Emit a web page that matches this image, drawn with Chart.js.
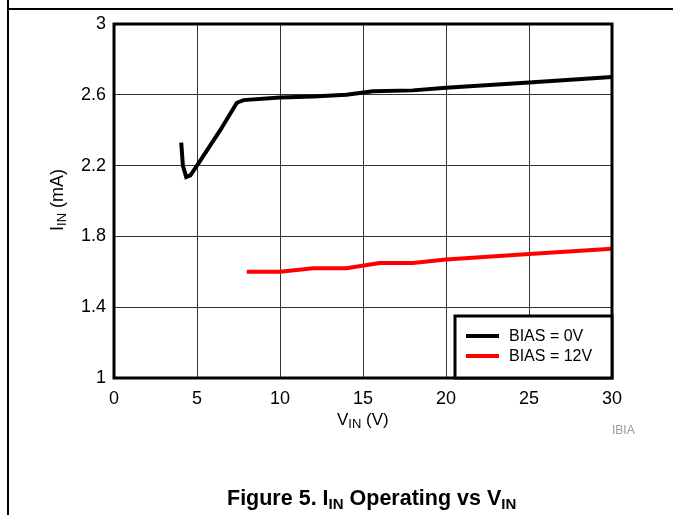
<!DOCTYPE html>
<html>
<head>
<meta charset="utf-8">
<script src="https://cdn.jsdelivr.net/npm/chart.js@4.4.0/dist/chart.umd.min.js"></script>
<style>
    body { margin: 0; background: #fff; font-family: "Liberation Sans", Arial, sans-serif; }
    #wrap { position: relative; width: 673px; height: 515px; overflow: hidden; }
    #frameTop { position: absolute; left: 8px; top: 8px; width: 665px; height: 2px; background: #000; }
    #frameLeft { position: absolute; left: 7px; top: 0; width: 2px; height: 515px; background: #000; }
    .lbl { position: absolute; color: #000; white-space: nowrap; }
    .lbl sub { vertical-align: -3px; }
    #xTitle { left: 337px; top: 410px; font-size: 17px; }
    #xTitle sub { font-size: 13px; }
    #yTitle { left: 58px; top: 200px; font-size: 18px; transform: translate(-50%, -50%) rotate(-90deg); }
    #yTitle sub { font-size: 13px; }
    #note { left: 612px; top: 423px; font-size: 12px; color: #999; }
    #caption { left: 227px; top: 486px; font-size: 21.5px; font-weight: bold; }
    #caption sub { font-size: 15px; vertical-align: -4px; }
</style>
</head>
<body>
<div id="wrap">
    <canvas id="chart"></canvas>
    <div id="frameTop"></div>
    <div id="frameLeft"></div>
    <div class="lbl" id="xTitle">V<sub>IN</sub> (V)</div>
    <div class="lbl" id="yTitle">I<sub>IN</sub> (mA)</div>
    <div class="lbl" id="note">IBIA</div>
    <div class="lbl" id="caption">Figure 5. I<sub>IN</sub> Operating vs V<sub>IN</sub></div>
</div>
<script>
// values
const vinBias0 = [4.05, 4.15, 4.35, 4.6, 5.0, 6.4, 7.4, 7.8, 10, 12, 14, 15.6, 18, 20, 25, 30];
const iinBias0 = [2.33, 2.20, 2.135, 2.145, 2.20, 2.40, 2.555, 2.57, 2.585, 2.59, 2.60, 2.62, 2.625, 2.64, 2.67, 2.70];
const vinBias12 = [8, 10, 12, 14, 16, 18, 20, 25, 30];
const iinBias12 = [1.60, 1.60, 1.62, 1.62, 1.65, 1.65, 1.67, 1.70, 1.73];
const seriesLabels = ['BIAS = 0V', 'BIAS = 12V'];
const yTicks = [1, 1.4, 1.8, 2.2, 2.6, 3];

const tickFont = { family: '"Liberation Sans", Arial, sans-serif', size: 18 };

function toPoints(xs, ys) {
    return xs.map((x, i) => ({ x: x, y: ys[i] }));
}

// thick box round the plot area
const plotBox = {
    id: 'plotBox',
    afterDatasetsDraw(chart) {
        const a = chart.chartArea;
        const ctx = chart.ctx;
        ctx.save();
        ctx.strokeStyle = '#000';
        ctx.lineWidth = 3;
        ctx.strokeRect(a.left, a.top, a.right - a.left, a.bottom - a.top);
        ctx.restore();
    }
};

// legend box sitting in the lower right corner of the plot
const boxLegend = {
    id: 'boxLegend',
    afterDraw(chart) {
        const a = chart.chartArea;
        const ctx = chart.ctx;
        const w = 157, h = 62;
        const x0 = a.right - w, y0 = a.bottom - h;
        ctx.save();
        ctx.fillStyle = '#fff';
        ctx.fillRect(x0, y0, w, h);
        ctx.strokeStyle = '#000';
        ctx.lineWidth = 3;
        ctx.strokeRect(x0, y0, w, h);
        ctx.font = '16px "Liberation Sans", Arial, sans-serif';
        ctx.textBaseline = 'middle';
        chart.data.datasets.forEach((ds, i) => {
            const y = y0 + 20 + i * 20;
            ctx.strokeStyle = ds.borderColor;
            ctx.lineWidth = 4;
            ctx.beginPath();
            ctx.moveTo(x0 + 11, y);
            ctx.lineTo(x0 + 44, y);
            ctx.stroke();
            ctx.fillStyle = '#000';
            ctx.fillText(ds.label, x0 + 54, y + 1);
        });
        ctx.restore();
    }
};

new Chart(document.getElementById('chart'), {
    type: 'scatter',
    data: {
        datasets: [{
            label: seriesLabels[0],
            data: toPoints(vinBias0, iinBias0),
            borderColor: '#000',
            borderWidth: 4,
            showLine: true,
            pointRadius: 0,
            tension: 0
        }, {
            label: seriesLabels[1],
            data: toPoints(vinBias12, iinBias12),
            borderColor: '#ff0000',
            borderWidth: 4,
            showLine: true,
            pointRadius: 0,
            tension: 0
        }]
    },
    options: {
        responsive: true,
        maintainAspectRatio: false,
        animation: false,
        layout: { padding: { left: 0, top: 24, right: 61, bottom: 0 } },
        plugins: {
            legend: { display: false },
            tooltip: { enabled: false }
        },
        scales: {
            x: {
                type: 'linear',
                min: 0,
                max: 30,
                afterFit: s => { s.height = 137; },
                ticks: {
                    stepSize: 5,
                    color: '#000',
                    padding: 10,
                    font: tickFont
                },
                grid: { color: '#333', lineWidth: 1, drawTicks: false },
                border: { display: false }
            },
            y: {
                type: 'linear',
                min: 1,
                max: 3,
                afterFit: s => { s.width = 114; },
                afterBuildTicks: s => { s.ticks = yTicks.map(v => ({ value: v })); },
                ticks: {
                    color: '#000',
                    padding: 8,
                    font: tickFont,
                    callback: v => String(Math.round(v * 10) / 10)
                },
                grid: { color: '#333', lineWidth: 1, drawTicks: false },
                border: { display: false }
            }
        }
    },
    plugins: [plotBox, boxLegend]
});
</script>
</body>
</html>
